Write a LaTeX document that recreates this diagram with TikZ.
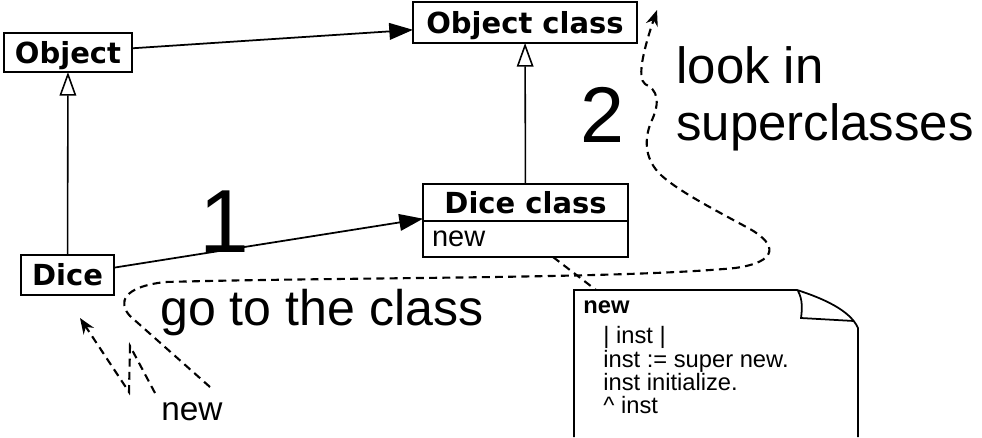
\documentclass[tikz,border=0pt]{standalone}
\usepackage{fontspec}
\setmainfont{Liberation Sans}
\newfontfamily\boxfont{DejaVu Sans}
\usetikzlibrary{arrows.meta,positioning}
\begin{document}
\begin{tikzpicture}[x=0.02cm,y=-0.02cm,
	cls/.style={draw,line width=1.1pt,outer sep=0pt,inner sep=0pt,
		font=\boxfont\bfseries\fontsize{16.5}{19}\selectfont,text height=12pt,text depth=0pt},
	assoc/.style={line width=1pt,-{Triangle[length=13.5pt,width=9.5pt]}},
	inherit/.style={line width=0.9pt,-{Triangle[fill=white,length=13.5pt,width=9.5pt]}},
	msg/.style={line width=1.2pt,dash pattern=on 4.5pt off 3pt},
	tip/.style={-{Stealth[length=9pt,width=7pt]}},
	big/.style={anchor=base west,inner sep=0pt,font=\fontsize{29}{33}\selectfont},
	code/.style={anchor=base west,inner sep=0pt,font=\fontsize{13.5}{15}\selectfont}]
	\useasboundingbox (0,0) rectangle (982,437);
	% classes
	\node[cls,minimum width=2.56cm,minimum height=0.78cm] (object) at (68,52.5) {Object};
	\node[cls,minimum width=4.48cm,minimum height=0.82cm] (objclass) at (525,22.5) {Object class};
	\node[cls,minimum width=1.86cm,minimum height=0.8cm] (dice) at (67.5,275) {Dice};
	\node[cls,minimum width=4.1cm,minimum height=0.74cm] (diceclass) at (525.5,202.5) {Dice class};
	\node[cls,below=0pt of diceclass,minimum height=0.72cm,inner xsep=0.18cm,text width=3.74cm,align=left,
		font=\fontsize{16.5}{19}\selectfont,text height=8.6pt] (dicenew) {new};
	\draw[assoc] (object) -- (objclass);
	\draw[assoc] (dice) -- (diceclass);
	\draw[inherit] (dice) -- (object);
	\draw[inherit] (diceclass) -- (objclass);
	% method note
	\draw[line width=1pt] (574,437) -- (574,290) -- (797,290)
		.. controls (822,298) and (850,310) .. (858,328) -- (858,437);
	\draw[line width=1pt] (798,291) .. controls (803,300) and (802,310) .. (801,318) -- (854,321);
	\coordinate (notetop) at (596,290);
	\draw[msg] ([xshift=0.55cm]dicenew.south) -- (notetop);
	\path
	(583,313) node[code,font=\bfseries\fontsize{13.5}{15}\selectfont]{new}
	(603,343) node[code]{| inst |}
	(603,367) node[code]{inst := super new.}
	(603,390) node[code]{inst initialize.}
	(603,413) node[code]{\textasciicircum\ inst}
	;
	% message lookup
	\coordinate (start) at (155,393);
	\coordinate (sender) at (80,318);
	\coordinate (lookup) at (210,387);
	\coordinate (found) at (657,10);
	\draw[msg,tip] (start) -- (130,346) -- (129,392) -- (sender);
	\draw[msg,tip] (lookup) -- (130,316) .. controls (118,303) and (122,287) .. (165,282)
		.. controls (350,277) and (620,279) .. (735,268)
		.. controls (778,262) and (778,245) .. (750,229)
		.. controls (715,210) and (680,192) .. (662,176)
		.. controls (642,158) and (645,135) .. (652,120)
		.. controls (660,102) and (658,90) .. (645,84)
		.. controls (636,78) and (645,45) .. (found);
	% labels
	\path
	(224,252) node[anchor=base,inner sep=0pt,font=\fontsize{51}{60}\selectfont]{1}
	(602.5,142) node[anchor=base,inner sep=0pt,font=\fontsize{45}{54}\selectfont]{2}
	(676,83) node[big]{look in}
	(676,140) node[big]{superclasses}
	(160,325) node[big,font=\fontsize{28.5}{33}\selectfont]{go to the class}
	(161,420) node[anchor=base west,inner sep=0pt,font=\fontsize{19}{23}\selectfont]{new}
	;
\end{tikzpicture}
\end{document}
